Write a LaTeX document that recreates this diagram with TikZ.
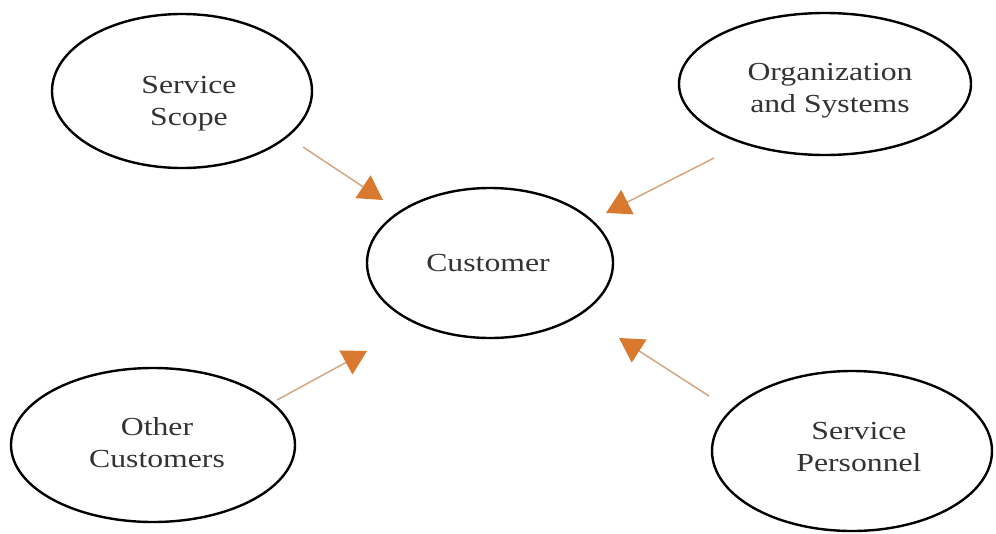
\documentclass[tikz,border=0pt]{standalone}
\usepackage{fontspec}
\usepackage{graphicx}
\setmainfont{Liberation Serif}
\usetikzlibrary{shapes.geometric,arrows.meta}
\definecolor{heador}{HTML}{D9782F}
\definecolor{shaftor}{HTML}{D2A882}
\definecolor{txtgray}{HTML}{333333}
\tikzset{
  oval/.style={draw=black, line width=2.4pt, ellipse, inner sep=0pt},
  lbl/.style={text=txtgray, align=center, font=\fontsize{26}{32}\selectfont},
  infl/.style={draw=shaftor, line width=1.5pt,
    -{Triangle[length=24pt, width=27pt, color=heador, fill=heador]}},
}
\newcommand{\wide}[1]{\scalebox{1.22}[1]{#1}}
\begin{document}
\begin{tikzpicture}[x=1pt,y=-1pt]
\useasboundingbox[fill=white] (0,0) rectangle (996,533);
% ellipses
\node[oval, minimum width=260pt, minimum height=154pt] (scope) at (182,91) {};
\node[oval, minimum width=292pt, minimum height=142pt] (org) at (825,84) {};
\node[oval, minimum width=246pt, minimum height=150pt] (cust) at (490,263) {};
\node[oval, minimum width=284pt, minimum height=154pt] (other) at (153,445) {};
\node[oval, minimum width=280pt, minimum height=160pt] (pers) at (852,451) {};
% labels
\node[lbl] (scopet) at (189,104) {\wide{Service}\\\wide{Scope}};
\node[lbl] (orgt) at (830,91) {\wide{Organization}\\\wide{and Systems}};
\node[lbl] (custt) at (488,263) {\wide{Customer}};
\node[lbl] (othert) at (157,443) {\wide{Other}\\\wide{Customers}};
\node[lbl] (perst) at (859,447) {\wide{Service}\\\wide{Personnel}};
% arrow end points
\coordinate (a1s) at (303,147); \coordinate (a1e) at (383,200);
\coordinate (a2s) at (714,158); \coordinate (a2e) at (606,213);
\coordinate (a3s) at (277,400); \coordinate (a3e) at (367,351);
\coordinate (a4s) at (709,396); \coordinate (a4e) at (619,338);
\draw[infl] (a1s) -- (a1e);
\draw[infl] (a2s) -- (a2e);
\draw[infl] (a3s) -- (a3e);
\draw[infl] (a4s) -- (a4e);
\end{tikzpicture}
\end{document}
